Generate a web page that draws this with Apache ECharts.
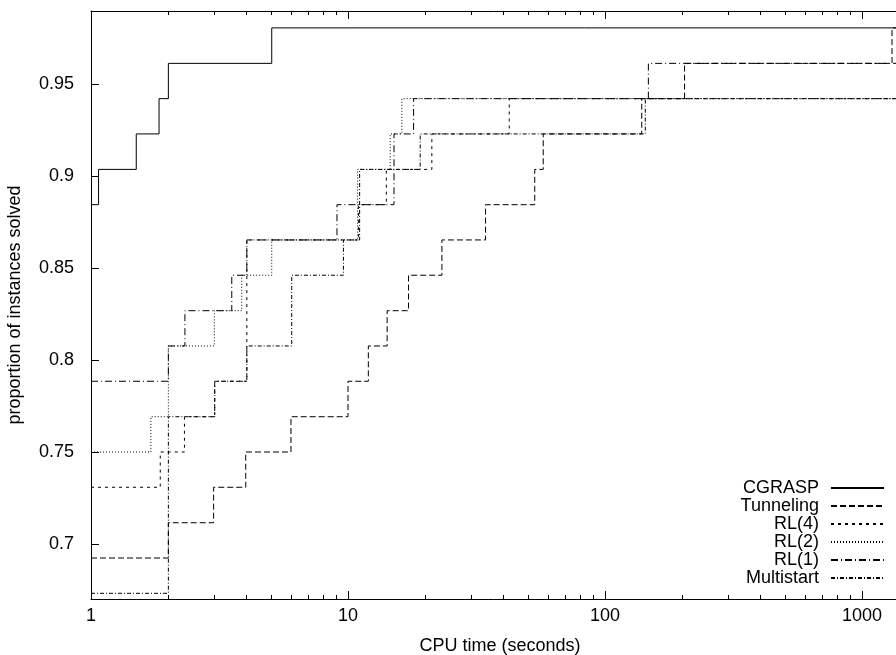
<!DOCTYPE html>
<html>
<head>
<meta charset="utf-8">
<script src="https://cdn.jsdelivr.net/npm/echarts@6/dist/echarts.min.js"></script>
<style>
  html, body { margin: 0; padding: 0; background: #fff; }
  #chart { width: 896px; height: 655px; }
</style>
</head>
<body>
<div id="chart"></div>
<script>
// CPU time (s) at which each level is reached, and the proportion solved from then on
const cgraspTime = [1, 1.07, 1.5, 1.84, 2, 5.05]
const cgraspVal = [0.8846, 0.9038, 0.9231, 0.9423, 0.9615, 0.9808]

const tunnelTime = [1, 2, 3, 4, 6, 10, 12, 14.2, 17.2, 23.2, 34.3, 53.3, 57.5, 139, 204, 1309]
const tunnelVal = [0.6923, 0.7115, 0.7308, 0.75, 0.7692, 0.7885, 0.8077, 0.8269, 0.8462, 0.8654, 0.8846, 0.9038, 0.9231, 0.9423, 0.9615, 0.9808]

const rl4Time = [1, 1.86, 2.31, 3.03, 4.04, 11, 14.1, 21.2, 42.4]
const rl4Val = [0.7308, 0.75, 0.7692, 0.7885, 0.8654, 0.8846, 0.9038, 0.9231, 0.9423]

const rl2Time = [1, 1.71, 2, 3.02, 3.86, 5.05, 10.9, 14.6, 16.2]
const rl2Val = [0.75, 0.7692, 0.8077, 0.8269, 0.8462, 0.8654, 0.9038, 0.9231, 0.9423]

const rl1Time = [1, 2, 2.32, 3.53, 4.04, 9.06, 15.1, 18, 147.5]
const rl1Val = [0.7885, 0.8077, 0.8269, 0.8462, 0.8654, 0.8846, 0.9231, 0.9423, 0.9615]

const multiTime = [1, 2, 3.03, 4.04, 6.04, 9.6, 11.1, 19.1, 143.5]
const multiVal = [0.6731, 0.7692, 0.7885, 0.8077, 0.8462, 0.8654, 0.9038, 0.9231, 0.9423]

const yTicks = [0.7, 0.75, 0.8, 0.85, 0.9, 0.95]
const minorTicks = [2, 3, 4, 5, 6, 7, 8, 9, 20, 30, 40, 50, 60, 70, 80, 90, 200, 300, 400, 500, 600, 700, 800, 900]

const xMin = 1
const xMax = 1524
const yMin = 0.67
const yMax = 0.99

const font = 'Liberation Sans, Arial, sans-serif'

function steps (times, vals) {
  const pts = times.map((t, i) => [t, vals[i]])
  pts.push([xMax, vals[vals.length - 1]])
  return pts
}

function stepSeries (name, times, vals, dash) {
  return {
    name: name,
    type: 'line',
    step: 'end',
    symbol: 'none',
    data: steps(times, vals),
    lineStyle: { color: '#000', width: 1, type: dash },
    itemStyle: { color: '#000' }
  }
}

const chart = echarts.init(document.getElementById('chart'))

const logAxis = {
  type: 'log',
  logBase: 10,
  min: xMin,
  max: xMax,
  axisLine: { lineStyle: { color: '#000', width: 1 } },
  axisTick: { inside: true, length: 8, lineStyle: { color: '#000' } },
  splitLine: { show: false },
  minorTick: { show: false }
}

chart.setOption({
  animation: false,
  grid: { left: 91, right: -13, top: 11, bottom: 56, containLabel: false, outerBoundsMode: 'none' },
  legend: {
    orient: 'vertical',
    right: 11,
    top: 479,
    padding: 0,
    align: 'right',
    itemWidth: 53,
    itemHeight: 18.6,
    itemGap: 0,
    itemStyle: { color: 'transparent', opacity: 0, borderWidth: 0 },
    data: ['CGRASP', 'Tunneling', 'RL(4)', 'RL(2)', 'RL(1)', 'Multistart'],
    textStyle: { fontFamily: font, fontSize: 18, color: '#000', lineHeight: 18, padding: [0, 7, 0, 0] }
  },
  xAxis: [
    Object.assign({}, logAxis, {
      position: 'bottom',
      name: 'CPU time (seconds)',
      nameLocation: 'middle',
      nameGap: 38,
      nameTextStyle: { fontFamily: font, fontSize: 18, color: '#000' },
      axisLabel: {
        margin: 8,
        fontFamily: font,
        fontSize: 18,
        color: '#000',
        showMaxLabel: false,
        formatter: v => String(Math.round(v))
      }
    }),
    Object.assign({}, logAxis, {
      position: 'top',
      axisLabel: { show: false }
    })
  ],
  yAxis: {
    type: 'value',
    min: yMin,
    max: yMax,
    name: 'proportion of instances solved',
    nameLocation: 'middle',
    nameGap: 67,
    nameTextStyle: { fontFamily: font, fontSize: 18, color: '#000' },
    axisLine: { show: true, lineStyle: { color: '#000', width: 1 } },
    axisTick: { inside: true, length: 8, customValues: yTicks, lineStyle: { color: '#000' } },
    axisLabel: {
      margin: 17,
      fontFamily: font,
      fontSize: 18,
      color: '#000',
      customValues: yTicks,
      formatter: v => String(+v.toFixed(2))
    },
    splitLine: { show: false }
  },
  series: [
    stepSeries('CGRASP', cgraspTime, cgraspVal, 'solid'),
    stepSeries('Tunneling', tunnelTime, tunnelVal, [6, 3]),
    stepSeries('RL(4)', rl4Time, rl4Val, [3, 4]),
    stepSeries('RL(2)', rl2Time, rl2Val, [1, 2]),
    stepSeries('RL(1)', rl1Time, rl1Val, [7, 3, 1, 3]),
    stepSeries('Multistart', multiTime, multiVal, [4, 2, 1, 2]),
    {
      // minor log ticks on bottom and top edges
      type: 'custom',
      silent: true,
      clip: false,
      data: minorTicks.map(v => [v, yMin]),
      renderItem: (params, api) => {
        const b = api.coord([api.value(0), yMin])
        const t = api.coord([api.value(0), yMax])
        const x = Math.round(b[0]) + 0.5
        return {
          type: 'group',
          children: [
            { type: 'line', shape: { x1: x, y1: b[1], x2: x, y2: b[1] - 4 }, style: { stroke: '#000', lineWidth: 1 } },
            { type: 'line', shape: { x1: x, y1: t[1], x2: x, y2: t[1] + 4 }, style: { stroke: '#000', lineWidth: 1 } }
          ]
        }
      }
    }
  ]
})
</script>
</body>
</html>
